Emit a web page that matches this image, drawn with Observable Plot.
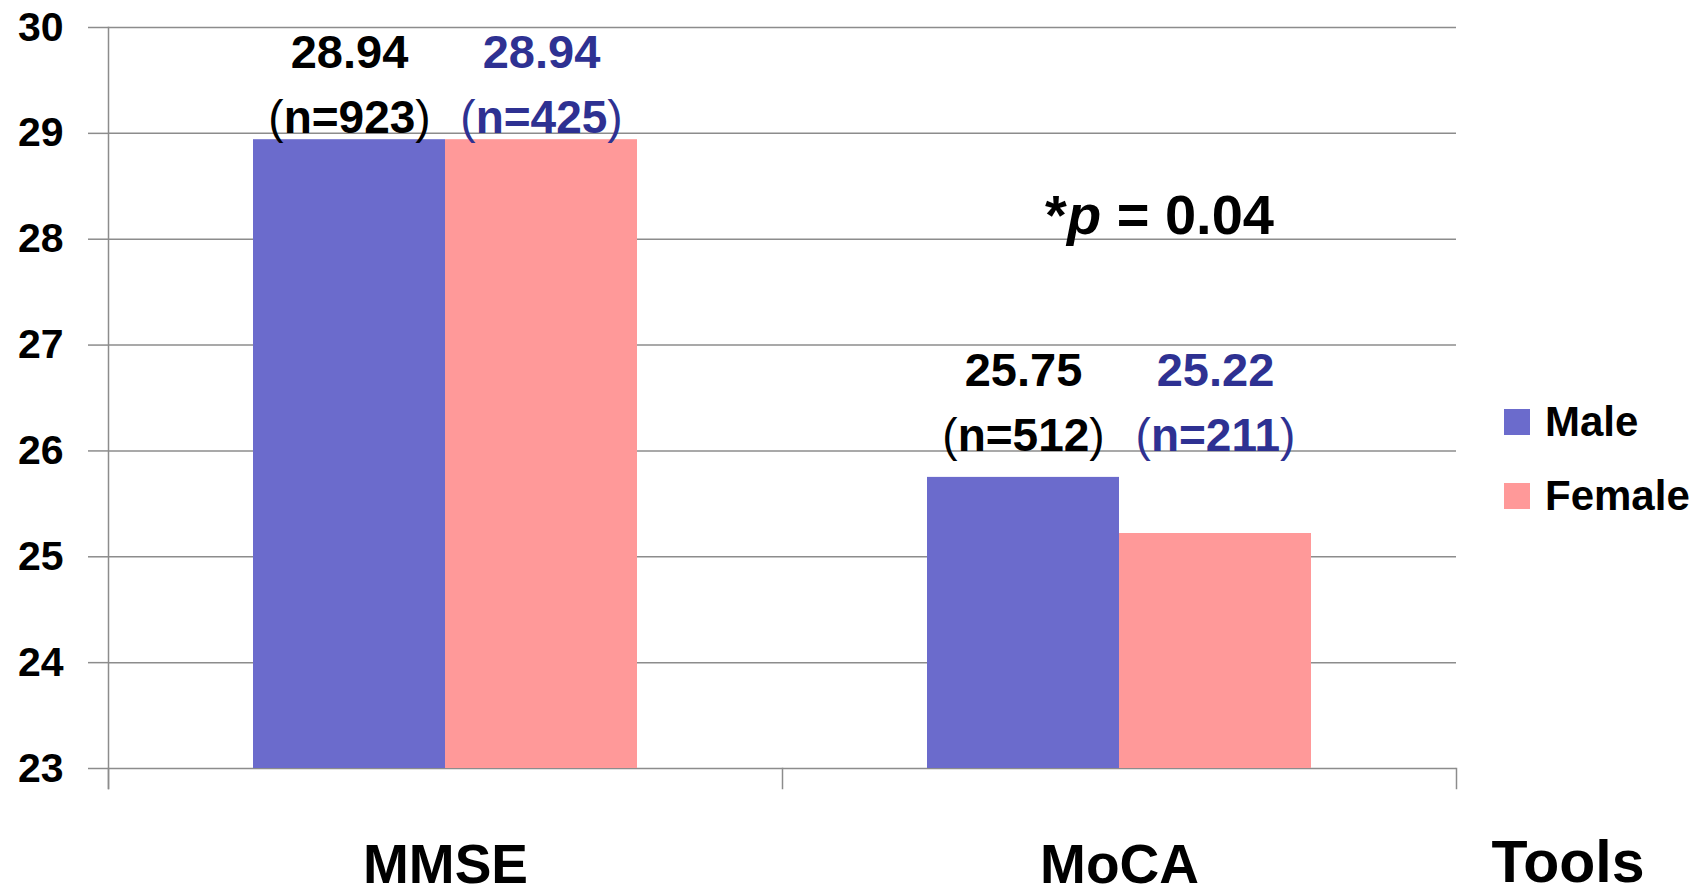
<!DOCTYPE html>
<html><head><meta charset="utf-8">
<script src="https://cdn.jsdelivr.net/npm/d3@7"></script>
<script src="https://cdn.jsdelivr.net/npm/@observablehq/plot@0.6"></script>
<style>
html,body{margin:0;padding:0;background:#fff;overflow:hidden}
#wrap{position:relative;width:1697px;height:894px}
#legend{position:absolute;left:1504px;top:398px}
#legend > div{display:flex !important;flex-direction:column;align-items:flex-start !important;row-gap:26px;
  font-family:'Liberation Sans',Arial,sans-serif !important;font-size:42px !important;font-weight:bold;line-height:48px;color:#000;min-height:0 !important;margin:0 !important}
#legend svg{margin-right:15px !important}
</style></head><body><div id="wrap"><div id="legend"></div></div>
<script>
// ---- data ----
const tools = ["MMSE", "MoCA"];
const sexes = ["Male", "Female"];
const maleMean = [28.94, 25.75];
const femaleMean = [28.94, 25.22];
const maleN = [923, 512];
const femaleN = [425, 211];
const yTicks = [23, 24, 25, 26, 27, 28, 29, 30];
const pText = "*p = 0.04";
const axisTitle = "Tools";

// ---- styles ----
const barColors = ["#6b6bcc", "#ff9999"];
const textColor = {Male: "#000000", Female: "#2e3192"};
const gray = "#8c8c8c";
const W = 1697, H = 894, mL = 108, mR = 241, mT = 27, mB = 126;
const innerH = H - mT - mB;
const font = "'Liberation Sans', Arial, sans-serif";

const rows = tools.flatMap((t, i) => [
  {tool: t, sex: sexes[0], value: maleMean[i], n: maleN[i]},
  {tool: t, sex: sexes[1], value: femaleMean[i], n: femaleN[i]}
]);
const labelBase = Object.fromEntries(tools.map(t => [t, Math.ceil(d3.max(rows.filter(d => d.tool === t), d => d.value))]));

const labelMarks = sexes.flatMap(s => {
  const sub = rows.filter(d => d.sex === s);
  return [
    Plot.text(sub, {fx: "tool", x: "sex", y: d => labelBase[d.tool], text: d => d.value.toFixed(2),
      dy: -65, lineAnchor: "bottom", fontSize: 47, fontWeight: "bold", fill: textColor[s]}),
    Plot.text(sub, {fx: "tool", x: "sex", y: d => labelBase[d.tool], text: d => `(n=${d.n})`,
      lineAnchor: "bottom", fontSize: 46, fontWeight: "bold", fill: textColor[s], ariaDescription: "nlabel"})
  ];
});

const chart = Plot.plot({
  width: W, height: H,
  marginLeft: mL, marginRight: mR, marginTop: mT, marginBottom: mB,
  style: {fontFamily: font, background: "#fff", overflow: "visible"},
  fx: {domain: tools, padding: 0, label: null},
  x: {domain: sexes, paddingInner: 0, paddingOuter: 0.75, axis: null},
  y: {domain: [yTicks[0], yTicks[yTicks.length - 1]], axis: null},
  color: {domain: sexes, range: barColors},
  marks: [
    Plot.gridY(yTicks, {stroke: gray, strokeOpacity: 1, strokeWidth: 1.5}),
    Plot.frame({anchor: "left", facetAnchor: "left", stroke: gray, strokeWidth: 1.5, insetBottom: -20}),
    Plot.frame({anchor: "left", stroke: gray, strokeWidth: 1.5, insetTop: innerH, insetBottom: -20}),
    Plot.frame({anchor: "right", facetAnchor: "right", stroke: gray, strokeWidth: 1.5, insetTop: innerH, insetBottom: -20}),
    Plot.axisY(yTicks, {tickSize: 20, tickPadding: 25, tickFormat: d => String(d), fontSize: 41, fontWeight: "bold", color: "#000",
      stroke: gray, strokeWidth: 1.5, label: null}),
    Plot.axisFx({anchor: "bottom", tickSize: 0, tickPadding: 75, fontSize: 55, fontWeight: "bold", label: null, color: "#000"}),
    Plot.barY(rows, {fx: "tool", x: "sex", y1: yTicks[0], y2: "value", fill: "sex"}),
    ...labelMarks,
    Plot.text([{tool: tools[1]}], {fx: "tool", y: 28, text: () => pText, dx: 40, dy: -5,
      lineAnchor: "bottom", fontSize: 56, fontWeight: "bold", fill: "#000", ariaDescription: "pvalue"}),
    Plot.text([{tool: tools[1]}], {fx: "tool", frameAnchor: "bottom-right", text: () => axisTitle,
      textAnchor: "start", lineAnchor: "bottom", dx: 35, dy: 113, fontSize: 59, fontWeight: "bold", fill: "#000"})
  ]
});

// thin parentheses and italic p
d3.select(chart).selectAll('g[aria-description="nlabel"] text').each(function () {
  const s = this.textContent;
  const el = d3.select(this);
  el.text("");
  el.append("tspan").attr("font-weight", "normal").text(s.slice(0, 1));
  el.append("tspan").text(s.slice(1, -1));
  el.append("tspan").attr("font-weight", "normal").text(s.slice(-1));
});
d3.select(chart).selectAll('g[aria-description="pvalue"] text').each(function () {
  const s = this.textContent;
  const k = s.indexOf("p");
  const el = d3.select(this);
  el.text("");
  el.append("tspan").text(s.slice(0, k));
  el.append("tspan").attr("font-style", "italic").text("p");
  el.append("tspan").text(s.slice(k + 1));
});

document.getElementById("wrap").prepend(chart);
document.getElementById("legend").append(chart.legend("color", {swatchSize: 26}));
</script></body></html>
